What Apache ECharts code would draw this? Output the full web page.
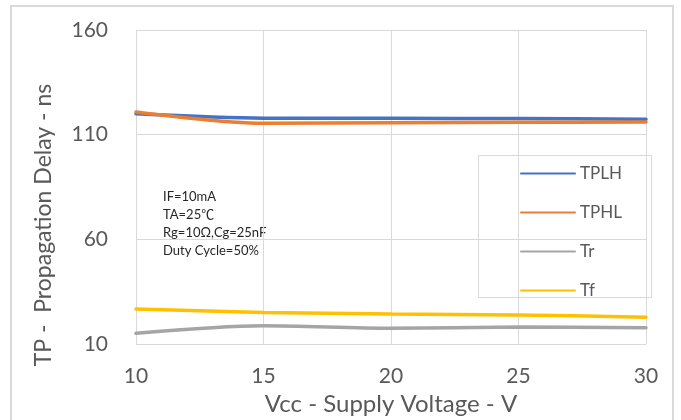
<!DOCTYPE html>
<html>
<head>
<meta charset="utf-8">
<script src="https://cdn.jsdelivr.net/npm/echarts@6/dist/echarts.min.js"></script>
<style>
html,body{margin:0;padding:0;background:#fff;}
#c{width:681px;height:420px;}
</style>
</head>
<body>
<div id="c"></div>
<script>
var vcc = [10, 15, 20, 25, 30];
var tplh = [120.0, 117.9, 117.8, 117.7, 117.4];
var tphl = [120.8, 115.4, 115.7, 115.9, 116.1];
var tr = [15.1, 18.7, 17.5, 18.1, 17.8];
var tf = [26.7, 25.1, 24.3, 23.9, 22.8];
var xTicks = [10, 15, 20, 25, 30];
var yTicks = [10, 60, 110, 160];
var notes = ['IF=10mA', 'TA=25\u2103', 'Rg=10\u03A9,Cg=25nF', 'Duty Cycle=50%'];
var xTitle = 'Vcc - Supply Voltage - V';
var yTitle = 'TP -  Propagation Delay - ns';

var FONT = 'Lato, "Noto Sans CJK SC", sans-serif';
function pairs(ys){ return vcc.map(function(x,i){ return [x, ys[i]]; }); }
function mk(name, ys, color){
  return { name: name, type: 'line', data: pairs(ys), smooth: 0.3, symbol: 'none',
    lineStyle: { color: color, width: 3.5, cap: 'round' }, itemStyle: { color: color } };
}
var chart = echarts.init(document.getElementById('c'), null, { renderer: 'canvas' });
chart.setOption({
  animation: false,
  textStyle: { fontFamily: FONT },
  grid: { left: 136, right: 35, top: 30, bottom: 76, outerBoundsMode: 'none', containLabel: false },
  xAxis: {
    type: 'value', min: xTicks[0], max: xTicks[xTicks.length-1], interval: 5,
    name: xTitle, nameLocation: 'middle', nameGap: 32,
    nameTextStyle: { fontSize: 24, color: '#595959', fontFamily: FONT },
    axisLine: { show: false }, axisTick: { show: false },
    axisLabel: { fontSize: 21, color: '#595959', margin: 22, fontFamily: FONT },
    splitLine: { show: true, lineStyle: { color: '#d9d9d9', width: 1 } }
  },
  yAxis: {
    type: 'value', min: yTicks[0], max: yTicks[yTicks.length-1], interval: 50,
    axisLine: { show: false }, axisTick: { show: false },
    axisLabel: { fontSize: 21, color: '#595959', margin: 28, fontFamily: FONT },
    splitLine: { show: true, lineStyle: { color: '#d9d9d9', width: 1 } }
  },
  legend: {
    orient: 'vertical', left: 520, top: 165, padding: 0,
    itemWidth: 54, itemHeight: 14, itemGap: 22,
    itemStyle: { opacity: 0 },
    textStyle: { fontSize: 17, color: '#595959', fontFamily: FONT },
    data: ['TPLH', 'TPHL', 'Tr', 'Tf']
  },
  graphic: [
    { type: 'rect', shape: { x: 11, y: 6, width: 662, height: 430 },
      style: { fill: 'none', stroke: '#d9d9d9', lineWidth: 2 }, silent: true, z: -1 },
    { type: 'rect', shape: { x: 478.5, y: 155.5, width: 173, height: 142 },
      style: { fill: 'none', stroke: '#d9d9d9', lineWidth: 1 }, silent: true },
    { type: 'text', x: 44, y: 225, rotation: Math.PI / 2,
      style: { text: yTitle, font: '23px ' + FONT, fill: '#595959', align: 'center', verticalAlign: 'middle' } },
    { type: 'text', left: 163, top: 188,
      style: { text: notes.join('\n'), font: '13px ' + FONT, fill: '#262626', lineHeight: 18 } }
  ],
  series: [
    mk('TPLH', tplh, '#4472C4'),
    mk('TPHL', tphl, '#ED7D31'),
    mk('Tr', tr, '#A5A5A5'),
    mk('Tf', tf, '#FFC000')
  ]
});
</script>
</body>
</html>
